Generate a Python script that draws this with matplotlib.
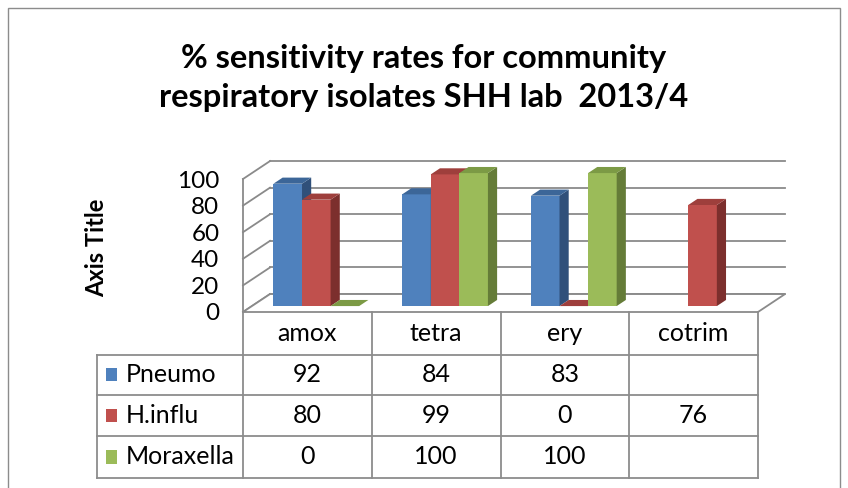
import matplotlib
matplotlib.use("Agg")
import matplotlib.pyplot as plt
from matplotlib.patches import Polygon, Rectangle

# data
categories = ["amox", "tetra", "ery", "cotrim"]
series = ["Pneumo", "H.influ", "Moraxella"]
pneumo = [92, 84, 83, None]
hinflu = [80, 99, 0, 76]
moraxella = [0, 100, 100, None]
y_ticks = [0, 20, 40, 60, 80, 100]

values = [pneumo, hinflu, moraxella]
face = ["#4F81BD", "#C0504D", "#9BBB59"]
side = ["#30507A", "#7C2F2D", "#657C38"]
top = ["#3C6698", "#9E3F3C", "#7C9A45"]
grid_c = "#8A8A8A"

plt.rcParams["font.family"] = ["Lato", "DejaVu Sans"]

fig = plt.figure(figsize=(8.48, 4.88), dpi=100)
fig.patch.set_facecolor("white")
fig.add_artist(Rectangle((8 / 848, -0.05), 832 / 848, 1.05 - 8 / 488,
                         transform=fig.transFigure, fill=False,
                         edgecolor="#8C8C8C", lw=1.0))

# axes: x in category slots (0..4), y in value units (0..100) on the front plane
ax = fig.add_axes([243 / 848, (488 - 312) / 488, 515 / 848, 133 / 488])
ax.set_xlim(0, len(categories))
ax.set_ylim(0, 100)
for s in ax.spines.values():
    s.set_visible(False)
ax.set_xticks([])
ax.set_yticks(y_ticks)
ax.set_yticklabels([str(t) for t in y_ticks], fontsize=17.5)
ax.tick_params(axis="y", length=0, pad=17)
ax.patch.set_alpha(0)

DX, DY = 0.21, 13.5          # full depth of the 3D box
n = len(categories)

# walls and gridlines
for v in y_ticks:
    ax.plot([DX, n + DX], [DY + v, DY + v], color=grid_c, lw=1.3, clip_on=False, zorder=1)
    ax.plot([0, DX], [v, DY + v], color=grid_c, lw=1.3, clip_on=False, zorder=1)
ax.plot([0, 0], [0, 100], color=grid_c, lw=1.3, clip_on=False, zorder=1)
ax.add_patch(Polygon([(0, 0), (n, 0), (n + DX, DY), (DX, DY)], closed=True,
                     facecolor="white", edgecolor=grid_c, lw=1.3, clip_on=False, zorder=1))

# bars
W = 0.222
f0, fd = 0.33, 0.34
bdx, bdy = fd * DX, fd * DY
for c in range(n):
    for i in range(len(series)):
        v = values[i][c]
        if v is None:
            continue
        x0 = c + 0.5 - 1.5 * W + i * W + f0 * DX
        y0 = f0 * DY
        z = 3 + c * 0.1 + i * 0.01
        ax.add_patch(Rectangle((x0, y0), W, v, facecolor=face[i], edgecolor="none",
                               clip_on=False, zorder=z))
        ax.add_patch(Polygon([(x0 + W, y0), (x0 + W + bdx, y0 + bdy),
                              (x0 + W + bdx, y0 + bdy + v), (x0 + W, y0 + v)],
                             closed=True, facecolor=side[i], edgecolor="none",
                             clip_on=False, zorder=z))
        ax.add_patch(Polygon([(x0, y0 + v), (x0 + W, y0 + v),
                              (x0 + W + bdx, y0 + v + bdy), (x0 + bdx, y0 + v + bdy)],
                             closed=True, facecolor=top[i], edgecolor="none",
                             clip_on=False, zorder=z))

# data table below the floor
XL = -1.134
rows_y = [0, -32, -62.5, -93.5, -124.5]
tc = "#8C8C8C"
for c in range(n + 1):
    ax.plot([c, c], [rows_y[0], rows_y[-1]], color=tc, lw=1.3, clip_on=False, zorder=2)
ax.plot([XL, XL], [rows_y[1], rows_y[-1]], color=tc, lw=1.3, clip_on=False, zorder=2)
for y in rows_y[1:]:
    ax.plot([XL, n], [y, y], color=tc, lw=1.3, clip_on=False, zorder=2)

fs = 18
for c, cat in enumerate(categories):
    ax.text(c + 0.5, (rows_y[0] + rows_y[1]) / 2, cat, ha="center", va="center",
            fontsize=fs, clip_on=False)
for i, name in enumerate(series):
    yc = (rows_y[i + 1] + rows_y[i + 2]) / 2
    ax.add_patch(Rectangle((XL + 0.07, yc - 5), 0.085, 10, facecolor=face[i],
                           edgecolor="none", clip_on=False))
    ax.text(XL + 0.22, yc, name, ha="left", va="center", fontsize=fs, clip_on=False)
    for c in range(n):
        v = values[i][c]
        if v is None:
            continue
        ax.text(c + 0.5, yc, str(v), ha="center", va="center", fontsize=fs, clip_on=False)

fig.text(424 / 848, 1 - 78 / 488,
         "% sensitivity rates for community\nrespiratory isolates SHH lab  2013/4",
         ha="center", va="center", fontsize=23.5, fontweight="bold", linespacing=1.45)
fig.text(97 / 848, 1 - 248 / 488, "Axis Title", rotation=90, ha="center", va="center",
         fontsize=17, fontweight="bold")

fig.savefig("out.png", dpi=100)
